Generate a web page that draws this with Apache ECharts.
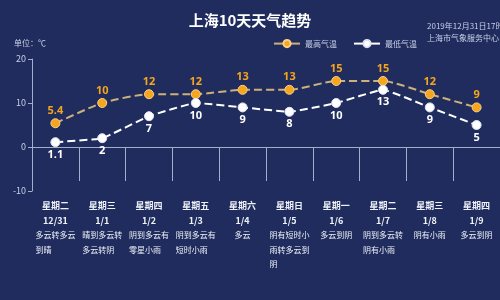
<!DOCTYPE html>
<html>
<head>
<meta charset="utf-8">
<script src="https://cdn.jsdelivr.net/npm/echarts@6/dist/echarts.min.js"></script>
<style>
  html, body { margin: 0; padding: 0; background: #1f2b5c; }
  #chart { width: 500px; height: 300px; }
</style>
</head>
<body>
<div id="chart"></div>
<script>
const weekdays = ["星期二", "星期三", "星期四", "星期五", "星期六", "星期日", "星期一", "星期二", "星期三", "星期四"];
const dates = ["12/31", "1/1", "1/2", "1/3", "1/4", "1/5", "1/6", "1/7", "1/8", "1/9"];
const weather = [
  "多云转多云\n到晴",
  "晴到多云转\n多云转阴",
  "阴到多云有\n零星小雨",
  "阴到多云有\n短时小雨",
  "多云",
  "阴有短时小\n雨转多云到\n阴",
  "多云到阴",
  "阴到多云转\n阴有小雨",
  "阴有小雨",
  "多云到阴"
];
const highTemp = [5.4, 10, 12, 12, 13, 13, 15, 15, 12, 9];
const lowTemp = [1.1, 2, 7, 10, 9, 8, 10, 13, 9, 5];
const yTicks = { min: -10, max: 20, interval: 10 };

const chart = echarts.init(document.getElementById("chart"), null, { renderer: "canvas" });
const font = "'Noto Sans CJK SC', 'Noto Sans', sans-serif";
const axisColor = "#a3aecd";

const option = {
  backgroundColor: "#1f2c5d",
  textStyle: { fontFamily: font },
  title: [
    {
      text: "上海10天天气趋势",
      left: "center",
      top: 8,
      textStyle: { color: "#ffffff", fontSize: 15, fontWeight: "bold", fontFamily: font }
    },
    {
      text: "2019年12月31日17时发布\n上海市气象服务中心 发布",
      left: 422,
      top: 15,
      textStyle: { color: "#c8d0e6", fontSize: 8, fontWeight: "normal", lineHeight: 12, fontFamily: font }
    }
  ],
  legend: {
    left: 268,
    top: 34,
    itemWidth: 26,
    itemHeight: 9,
    itemGap: 16,
    lineStyle: { type: "solid" },
    textStyle: { color: "#c8d0e6", fontSize: 8, fontFamily: font },
    data: ["最高气温", "最低气温"]
  },
  grid: { left: 32, top: 59, width: 480, height: 132 },
  xAxis: [
    {
      type: "category",
      data: weekdays,
      axisLine: { lineStyle: { color: axisColor } },
      axisTick: { show: true, length: 34, interval: 0, lineStyle: { color: axisColor } },
      axisLabel: {
        interval: 0,
        margin: 7,
        formatter: (v, i) => "{d|" + v + "}\n{d|" + dates[i] + "}",
        rich: {
          d: { color: "#eef1f8", fontSize: 9, fontWeight: "bold", lineHeight: 15, fontFamily: font }
        }
      }
    },
    {
      type: "category",
      data: weather,
      position: "bottom",
      axisLine: { show: false },
      axisTick: { show: false },
      axisLabel: {
        interval: 0,
        margin: 37,
        formatter: (v) => v.split("\n").map((s) => "{w|" + s + "}").join("\n"),
        rich: {
          w: { align: "left", color: "#eef1f8", fontSize: 8, lineHeight: 14.5, fontFamily: font }
        }
      }
    }
  ],
  yAxis: {
    type: "value",
    min: yTicks.min,
    max: yTicks.max,
    interval: yTicks.interval,
    name: "单位：℃",
    nameGap: 12,
    nameTextStyle: { color: "#c8d0e6", fontSize: 8, fontFamily: font, padding: [0, 4, 0, 0] },
    axisLine: { show: true, lineStyle: { color: axisColor } },
    axisTick: { show: true, length: 4, lineStyle: { color: axisColor } },
    axisLabel: { color: "#c8d0e6", fontSize: 9, margin: 6 },
    splitLine: { show: false }
  },
  series: [
    {
      name: "最高气温",
      type: "line",
      data: highTemp,
      smooth: 0.2,
      symbol: "circle",
      symbolSize: 9,
      lineStyle: { color: "#cdb07a", width: 2, type: [8, 4] },
      itemStyle: { color: "#f5a51e", borderColor: "#f8d08a", borderWidth: 1 },
      label: { show: true, position: "top", distance: 2, color: "#f5a51e", fontSize: 11, fontWeight: "bold", fontFamily: "'Noto Sans', sans-serif" }
    },
    {
      name: "最低气温",
      type: "line",
      data: lowTemp,
      smooth: 0.1,
      symbol: "circle",
      symbolSize: 9,
      lineStyle: { color: "#ffffff", width: 2, type: [8, 4] },
      itemStyle: { color: "#ffffff", borderColor: "#dfe4f0", borderWidth: 1 },
      label: { show: true, position: "bottom", distance: 2, color: "#ffffff", fontSize: 11, fontWeight: "bold", fontFamily: "'Noto Sans', sans-serif" }
    }
  ]
};

chart.setOption(option);
</script>
</body>
</html>
